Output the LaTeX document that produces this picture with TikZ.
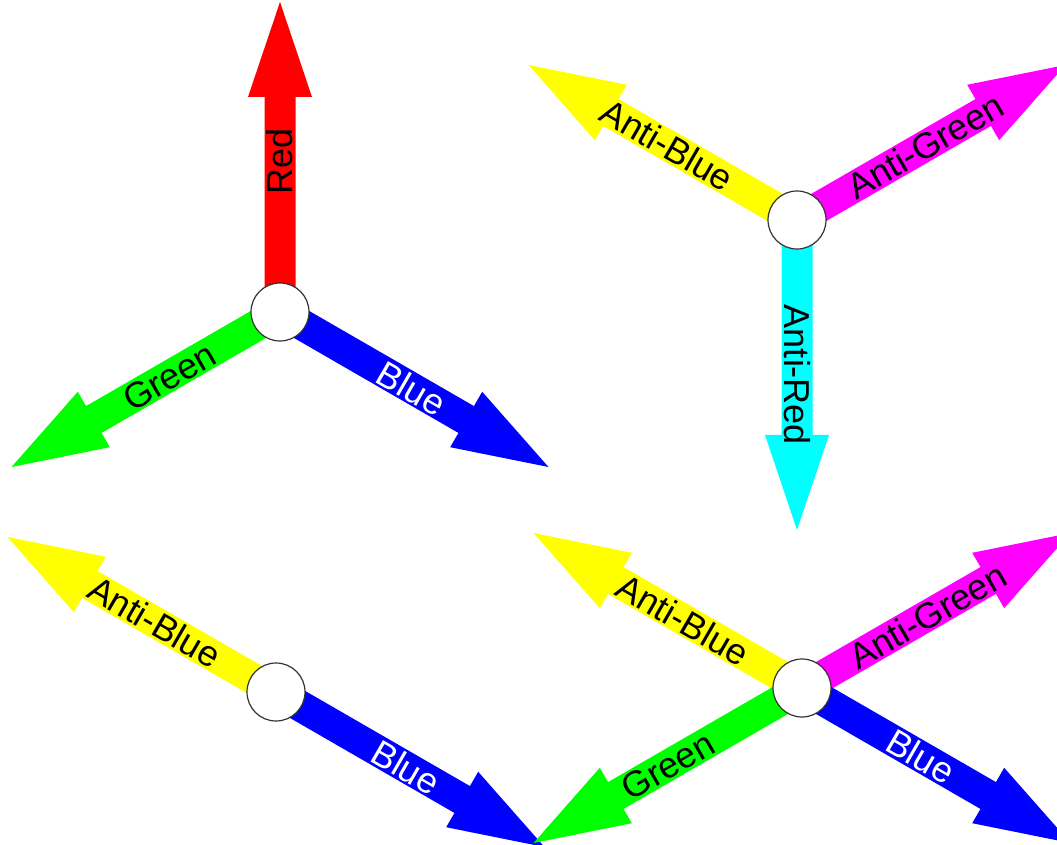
\documentclass[tikz,border=0pt]{standalone}
\usepackage{fontspec}
\setmainfont{Liberation Sans}
\definecolor{cRed}{RGB}{255,0,0}
\definecolor{cGreen}{RGB}{0,255,0}
\definecolor{cBlue}{RGB}{0,0,255}
\definecolor{cYellow}{RGB}{255,255,0}
\definecolor{cMagenta}{RGB}{255,0,255}
\definecolor{cCyan}{RGB}{0,255,255}
\newcommand\colarrow[3]{%
  \fill[#3, shift={(#1)}, rotate=#2] (0,-15.5) -- (215,-15.5) -- (215,-32) -- (310,0) -- (215,32) -- (215,15.5) -- (0,15.5) -- cycle;}
\begin{document}
\begin{tikzpicture}[x=1pt,y=1pt,
  lbl/.style={font=\fontsize{36}{36}\selectfont, inner sep=0pt, text height=25.8pt, text depth=0pt},
  hub/.style={circle, draw=black!80, line width=1.2pt, fill=white, minimum size=58pt, inner sep=0pt}]
\clip (0,0) rectangle (1057,844);
% hub centres
\coordinate (c1) at (280,532);
\coordinate (c2) at (797,624);
\coordinate (c3) at (276,152);
\coordinate (c4) at (802,156);
% group 1
\colarrow{c1}{90}{cRed}
\colarrow{c1}{210}{cGreen}
\colarrow{c1}{330}{cBlue}
% group 2
\colarrow{c2}{150}{cYellow}
\colarrow{c2}{30}{cMagenta}
\colarrow{c2}{270}{cCyan}
% group 3
\colarrow{c3}{150}{cYellow}
\colarrow{c3}{330}{cBlue}
% group 4
\colarrow{c4}{150}{cYellow}
\colarrow{c4}{30}{cMagenta}
\colarrow{c4}{210}{cGreen}
\colarrow{c4}{330}{cBlue}
% labels
\path (c1) ++(90:151) node[lbl, rotate=90] (l1r) {Red};
\path (c1) ++(210:128) node[lbl, rotate=30] (l1g) {Green};
\path (c1) ++(330:152) node[lbl, rotate=-30, text=white] (l1b) {Blue};
\path (c2) ++(150:150) node[lbl, rotate=-30] (l2ab) {Anti-Blue};
\path (c2) ++(30:148) node[lbl, rotate=30] (l2ag) {Anti-Green};
\path (c2) ++(270:155) node[lbl, rotate=-90] (l2ar) {Anti-Red};
\path (c3) ++(150:140) node[lbl, rotate=-30] (l3ab) {Anti-Blue};
\path (c3) ++(330:150) node[lbl, rotate=-30, text=white] (l3b) {Blue};
\path (c4) ++(150:137) node[lbl, rotate=-30] (l4ab) {Anti-Blue};
\path (c4) ++(30:145) node[lbl, rotate=30] (l4ag) {Anti-Green};
\path (c4) ++(210:155) node[lbl, rotate=30] (l4g) {Green};
\path (c4) ++(330:137) node[lbl, rotate=-30, text=white] (l4b) {Blue};
% hubs
\node[hub] (h1) at (c1) {};
\node[hub] (h2) at (c2) {};
\node[hub] (h3) at (c3) {};
\node[hub] (h4) at (c4) {};
\end{tikzpicture}
\end{document}
